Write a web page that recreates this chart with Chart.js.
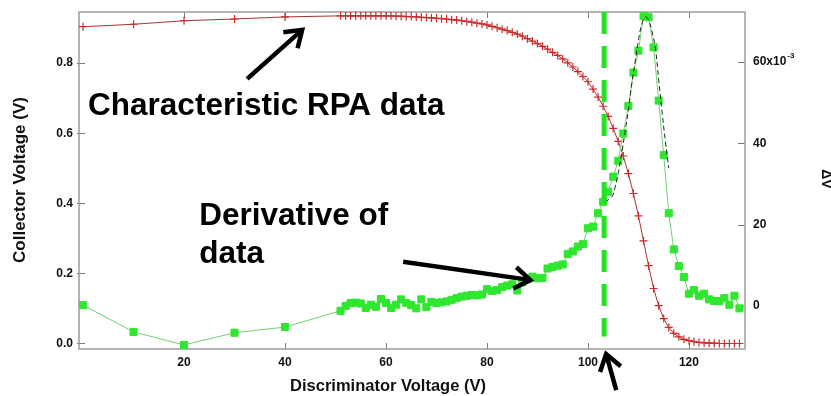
<!DOCTYPE html>
<html>
<head>
<meta charset="utf-8">
<title>RPA sweep</title>
<script src="https://cdn.jsdelivr.net/npm/chart.js@4/dist/chart.umd.min.js"></script>
<style>
  body { margin: 0; background: #fff; }
  #wrap { width: 831px; height: 396px; }
</style>
</head>
<body>
<div id="wrap"><canvas id="rpaChart" width="831" height="396"></canvas></div>
<script>
// discriminator sweep (V)
const sweepVolts = [0, 10, 20, 30, 40,
    51, 52, 53, 54, 55, 56, 57, 58, 59, 60,
    61, 62, 63, 64, 65, 66, 67, 68, 69, 70,
    71, 72, 73, 74, 75, 76, 77, 78, 79, 80,
    81, 82, 83, 84, 85, 86, 87, 88, 89, 90,
    91, 92, 93, 94, 95, 96, 97, 98, 99, 100,
    101, 102, 103, 104, 105, 106, 107, 108, 109, 110,
    111, 112, 113, 114, 115, 116, 117, 118, 119, 120,
    121, 122, 123, 124, 125, 126, 127, 128, 129, 130];

// collector voltage (V)
const collectorVolts = [0.904, 0.911, 0.921, 0.926, 0.932,
    0.935, 0.935, 0.935, 0.935, 0.935, 0.935, 0.935, 0.935, 0.935, 0.935,
    0.935, 0.934, 0.934, 0.933, 0.933, 0.932, 0.931, 0.930, 0.929, 0.928,
    0.927, 0.926, 0.924, 0.923, 0.921, 0.919, 0.917, 0.914, 0.912, 0.909,
    0.905, 0.901, 0.897, 0.893, 0.888, 0.883, 0.877, 0.870, 0.863, 0.856,
    0.848, 0.840, 0.831, 0.822, 0.812, 0.801, 0.789, 0.776, 0.762, 0.747,
    0.726, 0.703, 0.677, 0.648, 0.614, 0.577, 0.535, 0.485, 0.428, 0.364,
    0.293, 0.222, 0.157, 0.108, 0.071, 0.046, 0.029, 0.019, 0.012, 0.008,
    0.005, 0.003, 0.002, 0.001, 0.001, 0.000, 0.000, 0.000, 0.000, 0.000];

// derivative dV, in units of 10^-3
const deltaMilli = [0.2, -6.4, -9.6, -6.6, -5.2,
    -1.2, 0.0, 0.7, 0.8, 0.6, -0.5, 0.3, -0.2, 1.7, 0.7,
    -0.5, 0.3, 1.6, 0.7, 0.2, -0.6, 1.6, -0.3, 1.0, 0.7,
    0.9, 1.1, 1.5, 1.9, 2.3, 2.5, 2.7, 2.6, 2.8, 4.1,
    3.7, 3.9, 4.6, 5.0, 5.3, 3.8, 5.8, 6.6, 7.2, 6.8,
    6.9, 9.2, 9.6, 9.9, 10.2, 12.8, 13.4, 14.6, 15.2, 19.1,
    19.5, 22.8, 25.6, 28.1, 31.8, 35.7, 42.4, 49.2, 57.4, 62.8,
    71.3, 71.0, 63.6, 50.5, 37.1, 22.8, 13.9, 9.8, 7.1, 3.0,
    3.9, 2.5, 3.0, 1.6, 1.2, 1.2, 1.9, 0.3, 2.5, -0.6];

// peak fit (10^-3)
const fitVolts = [103.5, 104.1, 104.8, 105.4, 106.1, 106.8, 107.4, 108.1, 108.7, 109.4,
    110.0, 110.7, 111.4, 112.0, 112.7, 113.4, 114.0, 114.7, 115.3, 116.0];
const fitMilli = [25.4, 26.2, 26.9, 29.3, 33.4, 38.4, 43.3, 49.0, 54.8, 60.5,
    65.4, 69.5, 71.1, 70.3, 67.4, 62.9, 55.6, 47.4, 40.8, 33.9];

// onset marker
const markerVolt = 103.2;
const markerSpan = [0.02, 0.946];

const xTicks = [20, 40, 60, 80, 100, 120];
const leftTicks = [0, 0.2, 0.4, 0.6, 0.8];
const rightTicks = [0, 20, 40, 60];

// callouts, placed in axis units
const callouts = [
    { text: "Characteristic RPA data", x: 1.0, y: 0.652 },
    { text: "Derivative of", x: 23.0, y: 0.338 },
    { text: "data", x: 23.0, y: 0.230 }
];
const arrows = [
    { from: [32.5, 0.755], to: [43.4, 0.895] },
    { from: [63.4, 0.233], to: [88.6, 0.181] },
    { from: [105.6, -0.133], to: [103.6, -0.030] }
];

function pairs(xs, ys) {
    return xs.map((x, i) => ({ x: x, y: ys[i] }));
}

const boldFont = '"Liberation Sans", Arial, sans-serif';

function drawArrow(ctx, x1, y1, x2, y2) {
    let ang = Math.atan2(y2 - y1, x2 - x1);
    let len = 19, spread = 0.6;
    ctx.beginPath();
    ctx.moveTo(x1, y1);
    ctx.lineTo(x2 - Math.cos(ang) * 3, y2 - Math.sin(ang) * 3);
    ctx.stroke();
    ctx.beginPath();
    ctx.moveTo(x2 - len * Math.cos(ang - spread), y2 - len * Math.sin(ang - spread));
    ctx.lineTo(x2, y2);
    ctx.lineTo(x2 - len * Math.cos(ang + spread), y2 - len * Math.sin(ang + spread));
    ctx.stroke();
}

// keep the plot box where the layout puts it
function noPad(s) {
    s.paddingTop = 0;
    s.paddingBottom = 0;
    s.paddingLeft = 0;
    s.paddingRight = 0;
}

// frame, inside ticks, titles and callouts
const decorations = {
    id: "decorations",
    beforeDatasetsDraw(chart) {
        let ctx = chart.ctx;
        let a = chart.chartArea;
        let sx = chart.scales.x, sy = chart.scales.y, sr = chart.scales.y2;
        ctx.save();
        ctx.strokeStyle = "#7a7a7a";
        ctx.lineWidth = 1;
        xTicks.forEach(v => {
            let px = Math.round(sx.getPixelForValue(v)) + 0.5;
            ctx.beginPath();
            ctx.moveTo(px, a.bottom); ctx.lineTo(px, a.bottom - 6);
            ctx.moveTo(px, a.top); ctx.lineTo(px, a.top + 6);
            ctx.stroke();
        });
        leftTicks.forEach(v => {
            let py = Math.round(sy.getPixelForValue(v)) + 0.5;
            ctx.beginPath();
            ctx.moveTo(a.left - 2, py); ctx.lineTo(a.left + 6, py);
            ctx.stroke();
        });
        rightTicks.forEach(v => {
            let py = Math.round(sr.getPixelForValue(v)) + 0.5;
            ctx.beginPath();
            ctx.moveTo(a.right, py); ctx.lineTo(a.right - 7, py);
            ctx.stroke();
        });
        ctx.strokeStyle = "#9c9c9c";
        ctx.lineWidth = 1.5;
        ctx.strokeRect(a.left, a.top, a.right - a.left, a.bottom - a.top);
        ctx.restore();
    },
    afterDraw(chart) {
        let ctx = chart.ctx;
        let a = chart.chartArea;
        let sx = chart.scales.x, sy = chart.scales.y, sr = chart.scales.y2;
        ctx.save();

        // exponent on the right axis
        ctx.fillStyle = "#111";
        ctx.font = "bold 12px " + boldFont;
        let wBase = ctx.measureText("60x10").width;
        ctx.font = "bold 8px " + boldFont;
        ctx.textBaseline = "middle";
        ctx.fillText("-3", a.right + 8 + wBase + 1, sr.getPixelForValue(60) - 6);

        // axis titles
        ctx.font = "bold 16.5px " + boldFont;
        ctx.textAlign = "center";
        ctx.fillText("Discriminator Voltage (V)", 388, 386);

        ctx.save();
        ctx.translate(20, 180);
        ctx.rotate(-Math.PI / 2);
        ctx.font = "bold 17px " + boldFont;
        ctx.fillText("Collector Voltage (V)", 0, 0);
        ctx.restore();

        ctx.save();
        ctx.translate(826, 179);
        ctx.rotate(Math.PI / 2);
        ctx.font = "bold 14px " + boldFont;
        ctx.fillText("\u0394V", 0, 0);
        ctx.restore();

        // callouts
        ctx.fillStyle = "#000";
        ctx.textAlign = "left";
        ctx.textBaseline = "alphabetic";
        ctx.font = "bold 31.5px " + boldFont;
        callouts.forEach(c => {
            ctx.fillText(c.text, sx.getPixelForValue(c.x), sy.getPixelForValue(c.y));
        });

        ctx.strokeStyle = "#000";
        ctx.lineWidth = 4.5;
        ctx.lineJoin = "miter";
        arrows.forEach(r => {
            drawArrow(ctx,
                sx.getPixelForValue(r.from[0]), sy.getPixelForValue(r.from[1]),
                sx.getPixelForValue(r.to[0]), sy.getPixelForValue(r.to[1]));
        });
        ctx.restore();
    }
};

function loadChart() {
    let ctx = document.getElementById("rpaChart");

    new Chart(ctx, {
        type: "scatter",
        data: {
            datasets: [
                {
                    label: "onset",
                    data: [{ x: markerVolt, y: markerSpan[1] }, { x: markerVolt, y: markerSpan[0] }],
                    yAxisID: "y",
                    showLine: true,
                    borderColor: "#22e322",
                    borderWidth: 5,
                    borderDash: [22, 12],
                    pointRadius: 0,
                    order: 0
                },
                {
                    label: "fit",
                    data: pairs(fitVolts, fitMilli),
                    yAxisID: "y2",
                    showLine: true,
                    borderColor: "#222",
                    borderWidth: 1,
                    borderDash: [5, 3],
                    tension: 0.4,
                    pointRadius: 0,
                    order: 1
                },
                {
                    label: "dV",
                    data: pairs(sweepVolts, deltaMilli),
                    yAxisID: "y2",
                    showLine: true,
                    borderColor: "#70d070",
                    borderWidth: 1,
                    pointStyle: "rect",
                    pointRadius: 5,
                    pointBackgroundColor: "#30e630",
                    pointBorderColor: "#30e630",
                    pointBorderWidth: 1,
                    order: 2
                },
                {
                    label: "Collector",
                    data: pairs(sweepVolts, collectorVolts),
                    yAxisID: "y",
                    showLine: true,
                    borderColor: "#a83232",
                    borderWidth: 1,
                    pointStyle: "cross",
                    pointRadius: 4,
                    pointBorderColor: "#cc2a2a",
                    pointBorderWidth: 1.2,
                    order: 3
                }
            ]
        },
        options: {
            responsive: false,
            animation: false,
            devicePixelRatio: 1,
            clip: false,
            layout: { padding: { top: 12, left: 0, right: 0, bottom: 0 } },
            plugins: {
                legend: { display: false },
                tooltip: { enabled: false }
            },
            scales: {
                x: {
                    type: "linear",
                    position: "bottom",
                    min: -0.8,
                    max: 131.1,
                    grid: { display: false, drawTicks: false },
                    border: { display: false },
                    afterBuildTicks: s => { s.ticks = xTicks.map(v => ({ value: v })); },
                    afterFit: s => { s.height = 47; noPad(s); },
                    ticks: {
                        color: "#111",
                        padding: 6,
                        maxRotation: 0,
                        font: { family: boldFont, size: 12, weight: "bold" }
                    }
                },
                y: {
                    type: "linear",
                    position: "left",
                    min: -0.0157,
                    max: 0.946,
                    grid: { display: false, drawTicks: false },
                    border: { display: false },
                    afterBuildTicks: s => { s.ticks = leftTicks.map(v => ({ value: v })); },
                    afterFit: s => { s.width = 79; noPad(s); },
                    ticks: {
                        color: "#111",
                        padding: 6,
                        callback: v => v.toFixed(1),
                        font: { family: boldFont, size: 12, weight: "bold" }
                    }
                },
                y2: {
                    type: "linear",
                    position: "right",
                    min: -10.6,
                    max: 72.3,
                    grid: { display: false, drawTicks: false },
                    border: { display: false },
                    afterBuildTicks: s => { s.ticks = rightTicks.map(v => ({ value: v })); },
                    afterFit: s => { s.width = 86; noPad(s); },
                    ticks: {
                        color: "#111",
                        padding: 8,
                        callback: v => v === 60 ? "60x10" : String(v),
                        font: { family: boldFont, size: 12, weight: "bold" }
                    }
                }
            }
        },
        plugins: [decorations]
    });
}

window.onload = loadChart;
</script>
</body>
</html>
